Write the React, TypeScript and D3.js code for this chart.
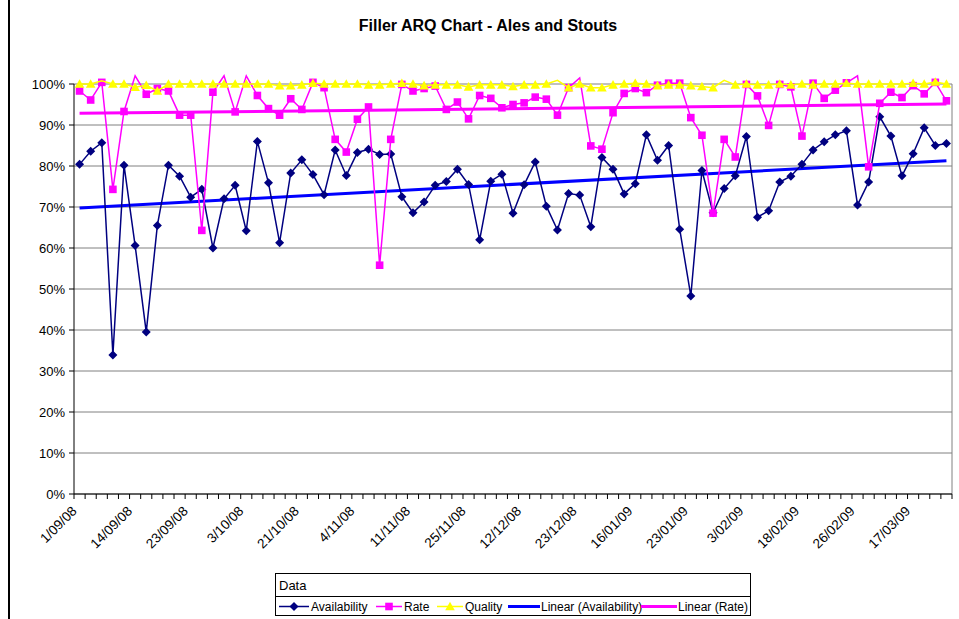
import React from 'react';
import * as d3 from 'd3';

// tick labels, one every 5 categories
const tickLabels = [
  '1/09/08', '14/09/08', '23/09/08', '3/10/08', '21/10/08', '4/11/08', '11/11/08', '25/11/08',
  '12/12/08', '23/12/08', '16/01/09', '23/01/09', '3/02/09', '18/02/09', '26/02/09', '17/03/09',
];

// percentages per shift (79 categories)
const availability = [
  80.4, 83.6, 85.7, 33.9, 80.2, 60.6, 39.5, 65.5, 80.2, 77.5, 72.4, 74.3, 60.0,
  72.0, 75.3, 64.2, 86.0, 75.9, 61.3, 78.3, 81.5, 77.9, 73.0, 83.9, 77.7, 83.3,
  84.1, 82.8, 82.9, 72.5, 68.6, 71.2, 75.3, 76.2, 79.2, 75.5, 62.0, 76.3, 78.0,
  68.5, 75.4, 81.0, 70.2, 64.4, 73.3, 72.9, 65.2, 82.1, 79.2, 73.2, 75.7, 87.6,
  81.4, 85.0, 64.6, 48.3, 78.9, 68.6, 74.5, 77.6, 87.2, 67.5, 69.1, 76.1, 77.5,
  80.4, 83.9, 85.9, 87.6, 88.6, 70.5, 76.1, 92.0, 87.3, 77.6, 83.0, 89.3, 85.0, 85.5,
];

const rate = [
  98.3, 96.1, 100.4, 74.3, 93.3, 102.0, 97.5, 98.9, 98.3, 92.4, 92.4, 64.3, 98.0,
  102.0, 93.2, 102.0, 97.2, 94.0, 92.4, 96.4, 93.8, 100.4, 99.1, 86.5, 83.4, 91.4,
  94.4, 55.8, 86.5, 99.9, 98.3, 98.9, 99.5, 93.8, 95.6, 91.5, 97.2, 96.5, 94.2,
  95.0, 95.4, 96.8, 96.3, 92.4, 99.1, 101.5, 84.9, 84.1, 93.0, 97.7, 98.9, 97.9,
  99.7, 100.2, 100.2, 91.8, 87.5, 68.5, 86.5, 82.2, 99.9, 97.1, 89.9, 99.9, 99.3,
  87.3, 100.2, 96.5, 98.5, 100.3, 102.0, 79.8, 95.3, 98.0, 96.7, 99.6, 97.6, 100.4, 95.9,
];

const quality = [
  100, 100, 100.8, 100, 100, 99.2, 99.7, 98.3, 100, 100, 100, 100, 100,
  100, 100, 100, 100, 100, 99.6, 99.6, 99.8, 100.2, 100, 100, 100, 100,
  99.8, 99.8, 100, 100.2, 100, 99.6, 99.8, 99.8, 99.8, 99.3, 99.8, 99.8, 99.8,
  99.4, 99.8, 99.8, 100, 100.9, 99.1, 100, 99.1, 99.1, 99.8, 100, 100.2, 100,
  99.6, 99.8, 99.8, 99.6, 99.4, 99.1, 100.9, 99.8, 100, 99.8, 99.8, 100, 99.8,
  100, 99.8, 100, 100, 100.2, 100, 100, 100, 100, 100, 100.2, 100, 100.5, 100,
];

const yTicks = [0, 10, 20, 30, 40, 50, 60, 70, 80, 90, 100];

const W = 959;
const H = 619;
const FONT = 'Liberation Sans, Arial, sans-serif';
const m = { left: 74, right: 952, top: 84, bottom: 494 };

const NAVY = '#000080';
const PINK = '#FF00FF';
const YELLOW = '#FFFF00';
const BLUE = '#0000FF';

const cats = d3.range(availability.length);

// least squares, like Excel's linear trendline
function fit(vals: number[]) {
  const n = vals.length;
  const mx = d3.mean(cats) as number;
  const my = d3.mean(vals) as number;
  let sxy = 0;
  let sxx = 0;
  vals.forEach((v, i) => {
    sxy += (i - mx) * (v - my);
    sxx += (i - mx) * (i - mx);
  });
  const b = sxy / sxx;
  const a = my - b * mx;
  return [0, n - 1].map((i) => ({ i, v: a + b * i }));
}

const diamond = (x: number, y: number, r = 4.5) =>
  `M${x},${y - r}L${x + r},${y}L${x},${y + r}L${x - r},${y}Z`;
const square = (x: number, y: number, r = 3.8) =>
  `M${x - r},${y - r}H${x + r}V${y + r}H${x - r}Z`;
const triangle = (x: number, y: number, r = 4.8) =>
  `M${x},${y - r}L${x + r},${y + r * 0.8}L${x - r},${y + r * 0.8}Z`;

export default function App() {
  const x = d3.scalePoint<number>().domain(cats).range([m.left, m.right]).padding(0.5);
  const step = x.step();
  const y = d3.scaleLinear().domain([0, 100]).range([m.bottom, m.top]);

  const line = d3
    .line<number>()
    .x((_, i) => x(i) as number)
    .y((v) => y(v));
  const trendLine = d3
    .line<{ i: number; v: number }>()
    .x((d) => x(d.i) as number)
    .y((d) => y(d.v));

  const series = [
    { name: 'Availability', vals: availability, color: NAVY, shape: diamond },
    { name: 'Rate', vals: rate, color: PINK, shape: square },
    { name: 'Quality', vals: quality, color: YELLOW, shape: triangle },
  ];

  const boundaries = d3.range(cats.length + 1).map((k) => m.left + k * step);

  // legend items
  const legend = [
    { label: 'Availability', color: NAVY, shape: diamond, x0: 279, x1: 309, tx: 311, w: 1.5 },
    { label: 'Rate', color: PINK, shape: square, x0: 376, x1: 402, tx: 404, w: 1.5 },
    { label: 'Quality', color: YELLOW, shape: triangle, x0: 437, x1: 463, tx: 465, w: 1.5 },
    { label: 'Linear (Availability)', color: BLUE, shape: null, x0: 508, x1: 540, tx: 541, w: 3 },
    { label: 'Linear (Rate)', color: PINK, shape: null, x0: 641, x1: 677, tx: 678, w: 3 },
  ];

  return (
    <svg
      width={W}
      height={H}
      style={{ position: 'absolute', left: 0, top: 0, background: '#fff' }}
      fontFamily={FONT}
    >
      <rect width={W} height={H} fill="#fff" />
      <line x1={9} x2={9} y1={0} y2={H} stroke="#000" strokeWidth={2} />

      <text x={488} y={31} textAnchor="middle" fontWeight="bold" fontSize={16}>
        Filler ARQ Chart - Ales and Stouts
      </text>

      {/* gridlines */}
      {yTicks.map((t) => (
        <line key={t} x1={m.left} x2={m.right} y1={y(t)} y2={y(t)} stroke="#808080" strokeWidth={1} />
      ))}
      <line x1={m.right} x2={m.right} y1={m.top} y2={m.bottom} stroke="#808080" />

      {/* y axis */}
      <line x1={m.left} x2={m.left} y1={m.top} y2={m.bottom} stroke="#000" />
      {yTicks.map((t) => (
        <g key={t}>
          <line x1={m.left - 5} x2={m.left} y1={y(t)} y2={y(t)} stroke="#000" />
          <text x={m.left - 9} y={y(t)} dy="0.35em" textAnchor="end" fontSize={13}>
            {t}%
          </text>
        </g>
      ))}

      {/* x axis */}
      <line x1={m.left} x2={m.right} y1={m.bottom} y2={m.bottom} stroke="#000" />
      {boundaries.map((bx, k) => (
        <line key={k} x1={bx} x2={bx} y1={m.bottom} y2={m.bottom + 5} stroke="#000" />
      ))}
      {tickLabels.map((lab, k) => {
        const cx = (x(k * 5) as number) - 2;
        return (
          <text key={lab} transform={`translate(${cx},${m.bottom + 18}) rotate(-45)`} textAnchor="end" fontSize={13.5}>
            {lab}
          </text>
        );
      })}

      {/* trendlines */}
      <path d={trendLine(fit(availability)) as string} fill="none" stroke={BLUE} strokeWidth={3} />
      <path d={trendLine(fit(rate)) as string} fill="none" stroke={PINK} strokeWidth={3} />

      {/* series */}
      {series.map((s) => (
        <g key={s.name}>
          <path d={line(s.vals) as string} fill="none" stroke={s.color} strokeWidth={1.5} />
          {s.vals.map((v, i) =>
            v <= 100.5 ? <path key={i} d={s.shape(x(i) as number, y(v))} fill={s.color} /> : null
          )}
        </g>
      ))}

      {/* legend */}
      <rect x={275.5} y={573.5} width={475} height={42} fill="#fff" stroke="#000" />
      <line x1={275.5} x2={750.5} y1={596.5} y2={596.5} stroke="#000" />
      <text x={279} y={590} fontSize={13}>
        Data
      </text>
      {legend.map((d) => (
        <g key={d.label}>
          <line x1={d.x0} x2={d.x1} y1={606.5} y2={606.5} stroke={d.color} strokeWidth={d.w} />
          {d.shape ? <path d={d.shape((d.x0 + d.x1) / 2, 606.5)} fill={d.color} /> : null}
          <text x={d.tx} y={611} fontSize={12}>
            {d.label}
          </text>
        </g>
      ))}
    </svg>
  );
}
